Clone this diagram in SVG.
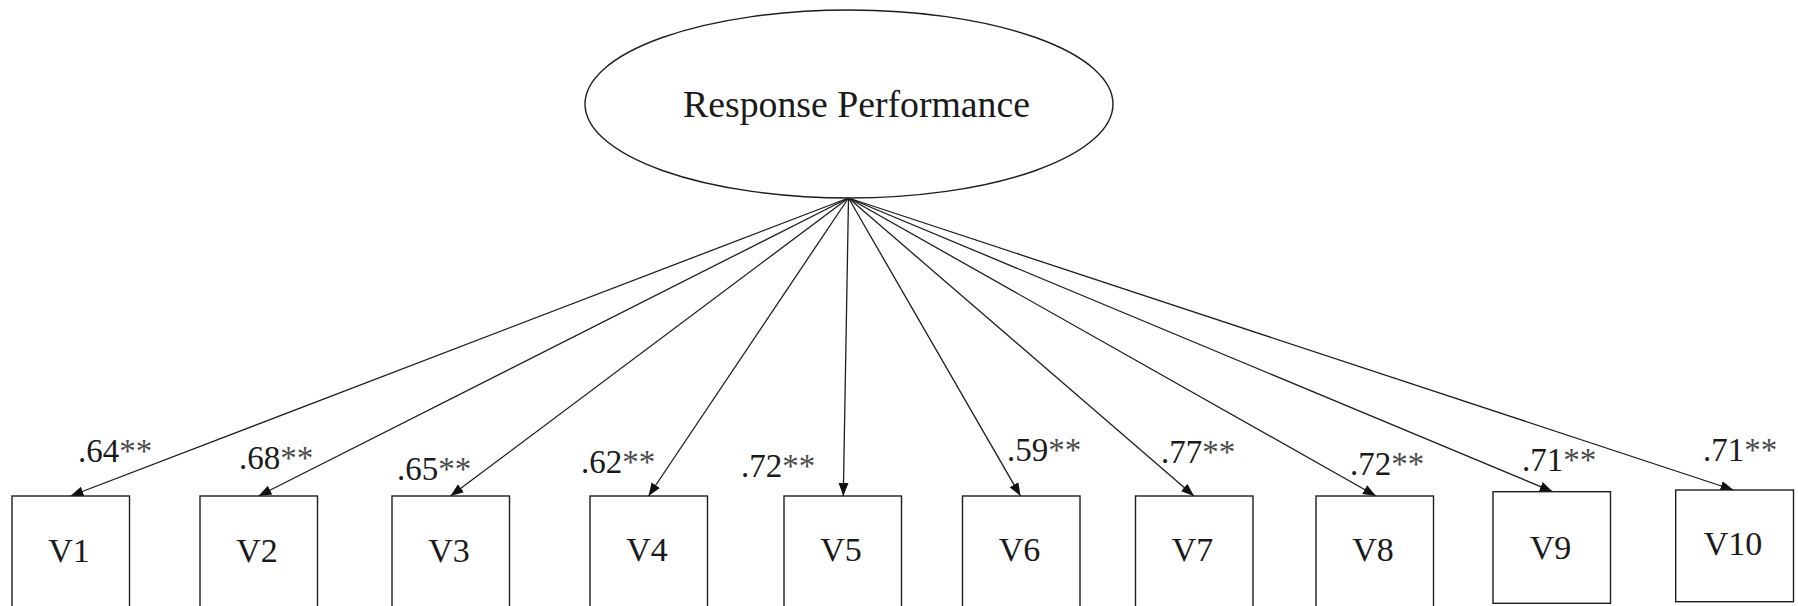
<svg xmlns="http://www.w3.org/2000/svg" width="1798" height="606" viewBox="0 0 1798 606">
<style>
  .node { fill: #ffffff; stroke: #1e1e1e; stroke-width: 1.4; }
  .lbl { font-family: "Liberation Serif", "Times New Roman", serif; fill: #1a1a1a; }
  .vname { font-size: 34px; text-anchor: middle; }
  .coef { font-size: 33px; }
  .star { fill: #4a4a4a; }
  .edge { stroke: #1e1e1e; stroke-width: 1.3; fill: none; marker-end: url(#arrow); }
</style>
<defs>
  <marker id="arrow" markerUnits="userSpaceOnUse" markerWidth="14" markerHeight="12" viewBox="0 0 14 12" refX="13" refY="6" orient="auto">
    <path d="M0,1 L13,6 L0,11 Z" fill="#111111"/>
  </marker>
</defs>
<rect width="1798" height="606" fill="#ffffff"/>

<g id="connectors">
  <line class="edge" x1="848.5" y1="198" x2="70.5" y2="496"/>
  <line class="edge" x1="848.5" y1="198" x2="258.5" y2="496"/>
  <line class="edge" x1="848.5" y1="198" x2="450.5" y2="496"/>
  <line class="edge" x1="848.5" y1="198" x2="648.5" y2="496"/>
  <line class="edge" x1="848.5" y1="198" x2="843.3" y2="496"/>
  <line class="edge" x1="848.5" y1="198" x2="1020.5" y2="496"/>
  <line class="edge" x1="848.5" y1="198" x2="1194" y2="496"/>
  <line class="edge" x1="848.5" y1="198" x2="1376" y2="496"/>
  <line class="edge" x1="848.5" y1="198" x2="1552.7" y2="491.7"/>
  <line class="edge" x1="848.5" y1="198" x2="1733.5" y2="490"/>
</g>

<g id="response-performance">
  <ellipse class="node" cx="849" cy="104" rx="264" ry="94"/>
  <text class="lbl" x="683" y="117" font-size="37" textLength="347" lengthAdjust="spacingAndGlyphs">Response Performance</text>
</g>

<g id="V1"><rect class="node" x="12" y="496" width="117.5" height="116"/><text class="lbl vname" x="69" y="562">V1</text></g>
<g id="V2"><rect class="node" x="200" y="496" width="117.5" height="116"/><text class="lbl vname" x="257" y="562">V2</text></g>
<g id="V3"><rect class="node" x="392" y="496" width="117.5" height="116"/><text class="lbl vname" x="449" y="562">V3</text></g>
<g id="V4"><rect class="node" x="590" y="496" width="117.5" height="116"/><text class="lbl vname" x="647" y="561">V4</text></g>
<g id="V5"><rect class="node" x="784" y="496" width="117.5" height="116"/><text class="lbl vname" x="841" y="561">V5</text></g>
<g id="V6"><rect class="node" x="962.5" y="496" width="117.5" height="116"/><text class="lbl vname" x="1019.5" y="561">V6</text></g>
<g id="V7"><rect class="node" x="1135.5" y="496" width="117.5" height="116"/><text class="lbl vname" x="1192.5" y="561">V7</text></g>
<g id="V8"><rect class="node" x="1316" y="496" width="117.5" height="116"/><text class="lbl vname" x="1373" y="561">V8</text></g>
<g id="V9"><rect class="node" x="1493" y="491.7" width="117.5" height="111.6"/><text class="lbl vname" x="1550.5" y="559">V9</text></g>
<g id="V10"><rect class="node" x="1675.7" y="490" width="117.8" height="111.7"/><text class="lbl vname" x="1733" y="555">V10</text></g>

<g id="coefficients">
  <text class="lbl coef" x="78" y="462">.64<tspan class="star">**</tspan></text>
  <text class="lbl coef" x="239" y="469">.68<tspan class="star">**</tspan></text>
  <text class="lbl coef" x="397" y="480">.65<tspan class="star">**</tspan></text>
  <text class="lbl coef" x="581" y="473">.62<tspan class="star">**</tspan></text>
  <text class="lbl coef" x="741" y="477">.72<tspan class="star">**</tspan></text>
  <text class="lbl coef" x="1007" y="461">.59<tspan class="star">**</tspan></text>
  <text class="lbl coef" x="1161" y="463">.77<tspan class="star">**</tspan></text>
  <text class="lbl coef" x="1350" y="475">.72<tspan class="star">**</tspan></text>
  <text class="lbl coef" x="1522" y="471">.71<tspan class="star">**</tspan></text>
  <text class="lbl coef" x="1703" y="461">.71<tspan class="star">**</tspan></text>
</g>
</svg>
